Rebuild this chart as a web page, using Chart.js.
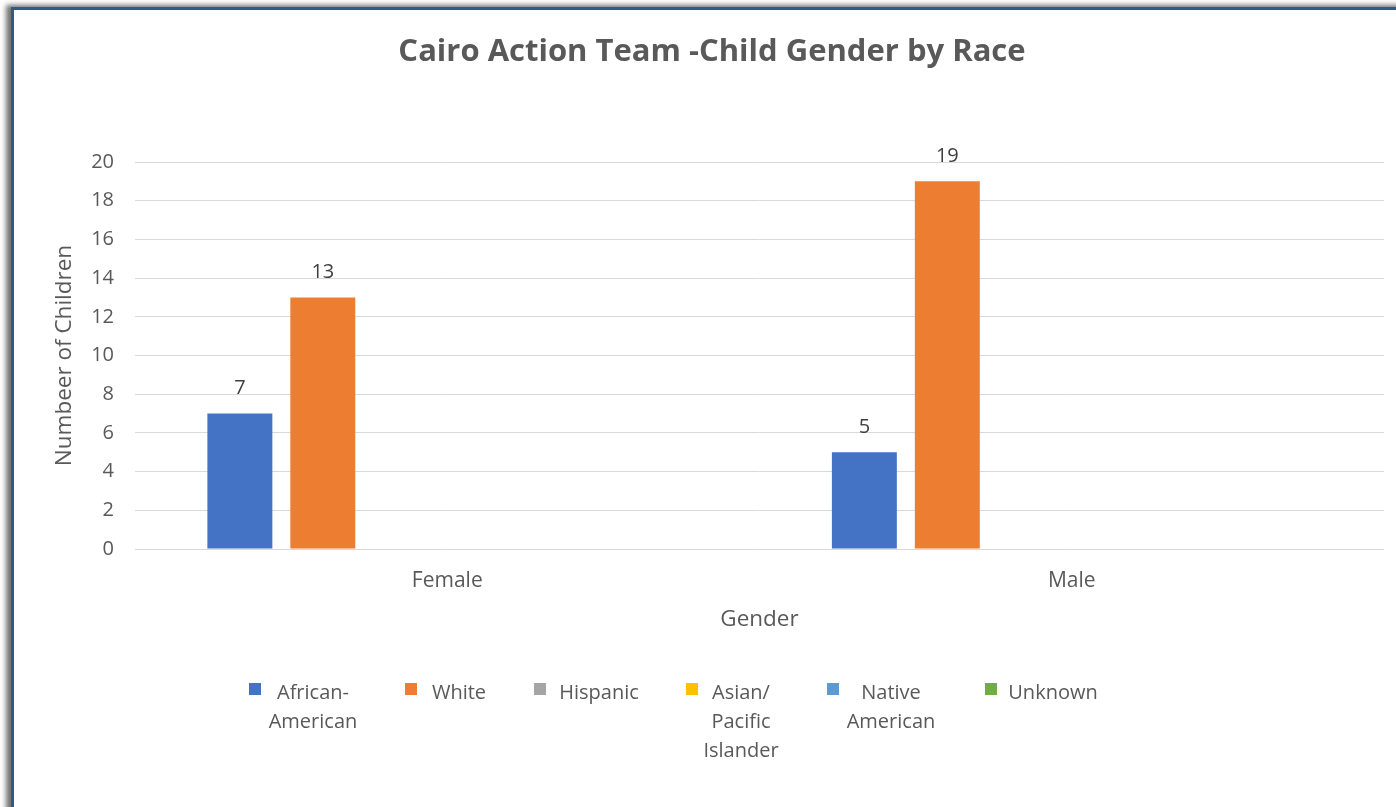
<!DOCTYPE html>
<html lang="en">
  <head>
    <meta charset="UTF-8" />
    <title>Cairo Action Team - Child Gender by Race</title>
    <script src="https://cdn.jsdelivr.net/npm/chart.js"></script>
    <style>
      body {
        margin: 0;
        width: 1396px;
        height: 807px;
        overflow: hidden;
        background: #fff;
        font-family: "Open Sans", sans-serif;
      }
      .frame {
        position: absolute;
        left: 11px;
        top: 7px;
        width: 1420px;
        height: 820px;
        border-left: 3px solid #2e5b88;
        border-top: 3px solid #2e5b88;
        box-shadow: -5px -2px 5px rgba(0, 0, 0, 0.55);
        background: #fff;
      }
      #chartBox {
        position: absolute;
        left: 0;
        top: 0;
      }
      .legend-item {
        position: absolute;
        color: #595959;
        font-size: 20px;
        line-height: 29px;
      }
      .legend-item .sq {
        position: absolute;
        width: 12px;
        height: 12px;
      }
      .legend-item .txt {
        position: absolute;
        text-align: center;
        white-space: nowrap;
        transform: translateX(-50%);
      }
    </style>
  </head>
  <body>
    <div class="frame"></div>
    <canvas id="chartBox" width="1424" height="807"></canvas>
    <div id="legend"></div>

    <script>
      // data
      const genders = ["Female", "Male"];
      const races = [
        "African-American",
        "White",
        "Hispanic",
        "Asian/Pacific Islander",
        "Native American",
        "Unknown",
      ];
      const africanAmerican = [7, 5];
      const white = [13, 19];
      const hispanic = [null, null];
      const asianPacific = [null, null];
      const nativeAmerican = [null, null];
      const unknown = [null, null];
      const yTicks = [0, 2, 4, 6, 8, 10, 12, 14, 16, 18, 20];

      const legendLines = [
        ["African-", "American"],
        ["White"],
        ["Hispanic"],
        ["Asian/", "Pacific", "Islander"],
        ["Native", "American"],
        ["Unknown"],
      ];
      const colors = ["#4472C4", "#ED7D31", "#A5A5A5", "#FFC000", "#5B9BD5", "#70AD47"];

      const seriesValues = [africanAmerican, white, hispanic, asianPacific, nativeAmerican, unknown];
      const FONT = "'Open Sans', sans-serif";

      // value labels above bars
      const valueLabels = {
        id: "valueLabels",
        afterDatasetsDraw(chart) {
          const ctx = chart.ctx;
          ctx.save();
          ctx.font = "20px " + FONT;
          ctx.fillStyle = "#404040";
          ctx.textAlign = "center";
          ctx.textBaseline = "middle";
          chart.data.datasets.forEach((ds, i) => {
            chart.getDatasetMeta(i).data.forEach((bar, j) => {
              const v = ds.data[j];
              if (v === null || v === undefined) return;
              ctx.fillText(String(v), bar.x, bar.y - 25);
            });
          });
          ctx.restore();
        },
      };

      const ctx = document.getElementById("chartBox").getContext("2d");
      new Chart(ctx, {
        type: "bar",
        data: {
          labels: genders,
          datasets: races.map((name, i) => ({
            label: name,
            data: seriesValues[i],
            backgroundColor: colors[i],
            categoryPercentage: 0.797,
            barPercentage: 0.783,
          })),
        },
        options: {
          responsive: false,
          animation: false,
          layout: { padding: { left: 40, right: 40, top: 0, bottom: 171 } },
          plugins: {
            legend: { display: false },
            tooltip: { enabled: false },
            title: {
              display: true,
              text: "Cairo Action Team -Child Gender by Race",
              color: "#595959",
              font: { family: FONT, size: 31, weight: "bold", lineHeight: 1 },
              padding: { top: 36.5, bottom: 94.5 },
            },
          },
          scales: {
            x: {
              grid: { display: false },
              border: { display: false },
              ticks: {
                color: "#595959",
                font: { family: FONT, size: 21 },
                padding: 11,
              },
              title: {
                display: true,
                text: "Gender",
                color: "#595959",
                font: { family: FONT, size: 22.5 },
                padding: { top: 0, bottom: 3 },
              },
              afterFit(scale) {
                scale.height = 87;
              },
            },
            y: {
              min: 0,
              max: 20,
              afterBuildTicks(scale) {
                scale.ticks = yTicks.map((v) => ({ value: v }));
              },
              grid: { color: "#D9D9D9", lineWidth: 1, drawTicks: false },
              border: { display: false },
              ticks: {
                color: "#595959",
                font: { family: FONT, size: 20 },
                padding: 21,
              },
              title: {
                display: true,
                text: "Numbeer of Children",
                color: "#595959",
                font: { family: FONT, size: 22.5 },
                padding: { top: 11, bottom: 0 },
              },
              afterFit(scale) {
                scale.width = 95;
              },
            },
          },
        },
        plugins: [valueLabels],
      });

      // legend (html, Excel-style wrapped labels)
      const legendSquareX = [249, 405, 534, 686, 827, 985];
      const legendTextCenter = [313, 459, 599, 741, 891, 1053];
      const legendDiv = document.getElementById("legend");
      races.forEach((name, i) => {
        const item = document.createElement("div");
        item.className = "legend-item";
        item.style.left = "0px";
        item.style.top = "677px";
        item.innerHTML =
          `<span class="sq" style="left:${legendSquareX[i]}px;top:${683 - 677}px;background:${colors[i]}"></span>` +
          `<span class="txt" style="left:${legendTextCenter[i]}px;top:0px">${legendLines[i].join("<br>")}</span>`;
        legendDiv.appendChild(item);
      });
    </script>
  </body>
</html>
